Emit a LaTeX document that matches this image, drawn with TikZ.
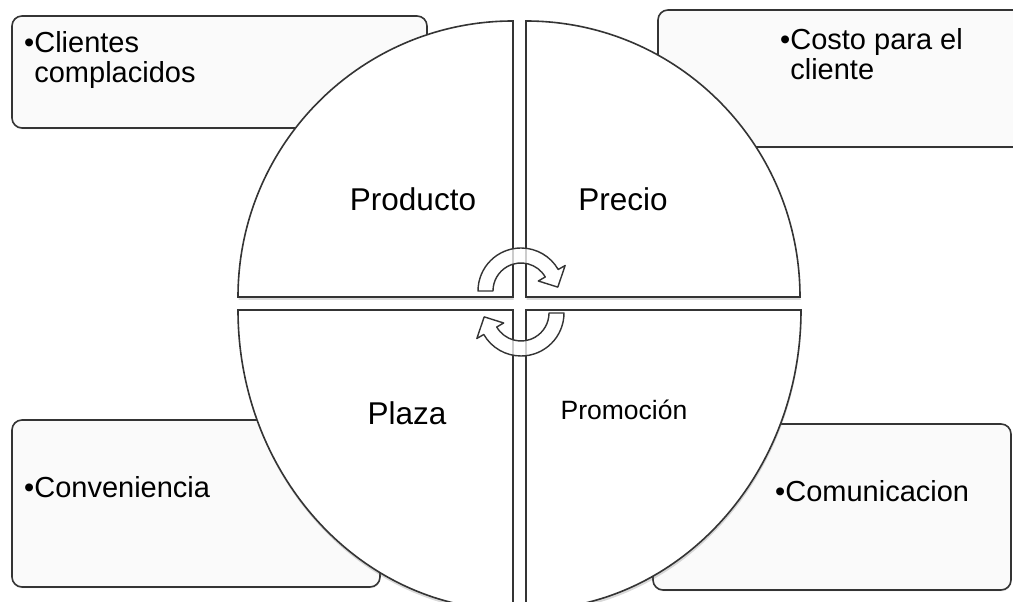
\documentclass[tikz,border=0pt]{standalone}
\usepackage{fontspec}
\setmainfont{Liberation Sans}
\usetikzlibrary{shadows}
\definecolor{ln}{RGB}{52,52,52}
\definecolor{bx}{RGB}{250,250,250}
\tikzset{card/.style={draw=ln,fill=bx,line width=1.6pt,rounded corners=10pt,drop shadow={shadow xshift=.5pt,shadow yshift=-1.5pt,opacity=.15}},
 quad/.style={draw=ln,fill=white,line width=1.6pt,drop shadow={shadow xshift=.5pt,shadow yshift=-3pt,opacity=.3}},
 turn/.style={draw=ln,fill=white,fill opacity=.75,line width=1.4pt,line join=round},
 lbl/.style={anchor=base,inner sep=0pt,font=\fontsize{31.5}{31.5}\selectfont},
 txt/.style={anchor=base west,inner sep=0pt,align=left,font=\fontsize{29}{27}\selectfont}}

\begin{document}
\begin{tikzpicture}[x=1pt,y=1pt]
\useasboundingbox (0,0) rectangle (1013,602);
\draw[card] (12,474) rectangle (427,586);
\draw[card] (658,455) rectangle (1040,592);
\draw[card] (12,15) rectangle (380,182);
\draw[card] (653,12) rectangle (1011,178);
\draw[quad] (513,305) -- (238,305) arc[start angle=180,end angle=90,x radius=275,y radius=276] -- cycle;
\draw[quad] (526,305) -- (526,581) arc[start angle=90,end angle=0,x radius=274,y radius=276] -- cycle;
\draw[quad] (513,292) -- (238,292) arc[start angle=180,end angle=270,x radius=275,y radius=300] -- cycle;
\draw[quad] (526,292) -- (801,292) arc[start angle=0,end angle=-90,x radius=275,y radius=300] -- cycle;
\node[lbl] (prod) at (413,391) {Producto};
\node[lbl] (prec) at (623,391) {Precio};
\node[lbl] (plaz) at (407,177) {Plaza};
\node[lbl,font=\fontsize{26.5}{26.5}\selectfont] (prom) at (624,182) {Promoción};
\node[txt] (cli) at (24,549) {•\begin{tabular}[t]{@{}l@{}}Clientes\\complacidos\end{tabular}};
\node[txt] (cos) at (780,552) {•\begin{tabular}[t]{@{}l@{}}Costo para el\\cliente\end{tabular}};
\node[txt] (con) at (24,104) {•Conveniencia};
\node[txt] (com) at (775,100) {•Comunicacion};
\begin{scope}[shift={(521,311)}]
\draw[turn] (180:43) arc[start angle=180,end angle=30,radius=43] -- (30:51) -- (6:37) -- (30:20) -- (30:28) arc[start angle=30,end angle=180,radius=28] -- cycle;
\end{scope}
\begin{scope}[shift={(521,289)}]
\draw[turn] (0:43) arc[start angle=0,end angle=-150,radius=43] -- (-150:51) -- (-174:37) -- (-150:20) -- (-150:28) arc[start angle=-150,end angle=0,radius=28] -- cycle;
\end{scope}
\end{tikzpicture}
\end{document}
